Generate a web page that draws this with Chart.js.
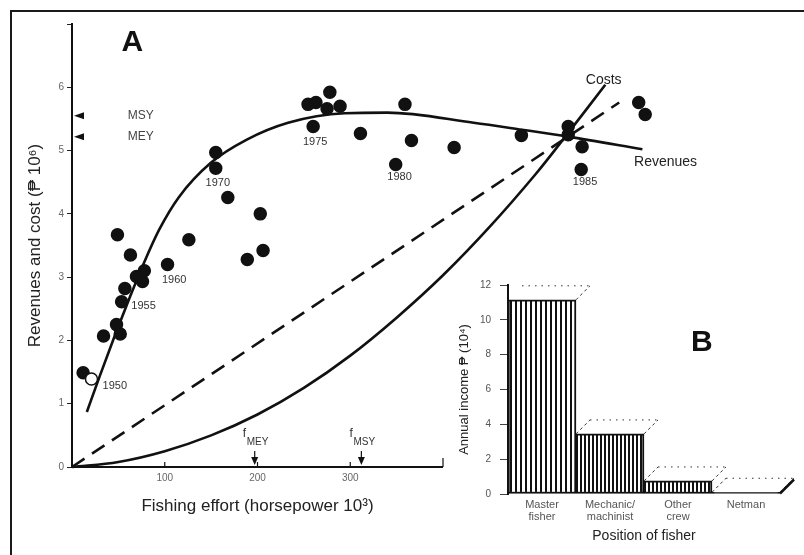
<!DOCTYPE html>
<html>
<head>
<meta charset="utf-8">
<script src="https://cdn.jsdelivr.net/npm/chart.js@4.4.0/dist/chart.umd.min.js"></script>
<style>
  html, body { margin: 0; padding: 0; background: #fff; }
  #wrap { position: relative; width: 804px; height: 555px; overflow: hidden; }
  #frame { position: absolute; left: 10px; top: 10px; width: 900px; height: 700px;
           border-left: 2px solid #1a1a1a; border-top: 2px solid #1a1a1a; }
  #chartA { position: absolute; left: 0; top: 0; }
  #chartB { position: absolute; left: 440px; top: 260px; }
</style>
</head>
<body>
<div id="wrap">
  <div id="frame"></div>
  <canvas id="chartA" width="804" height="555"></canvas>
  <canvas id="chartB" width="364" height="295"></canvas>
</div>
<script>
// ---- panel A: yearly observations (effort in 10^3 hp, revenue in 10^6 pesos)
const obsEffort = [12, 21, 34, 48, 52, 53.5, 57, 69.5, 76, 78, 63, 49, 103, 126, 155, 155, 168, 203, 189, 206,
                   254.5, 263, 275, 289, 278, 260, 311, 359, 366, 349, 412, 484.5, 535, 535, 550, 549, 611, 618];
const obsRevenue = [1.49, 1.39, 2.07, 2.25, 2.10, 2.61, 2.82, 3.01, 2.93, 3.10, 3.35, 3.67, 3.20, 3.59, 4.72, 4.97, 4.26, 4.00, 3.28, 3.42,
                    5.73, 5.76, 5.66, 5.70, 5.92, 5.38, 5.27, 5.73, 5.16, 4.78, 5.05, 5.24, 5.38, 5.25, 5.06, 4.70, 5.76, 5.57];

// fitted revenue curve
const revEffort = [16, 30, 46, 62, 78, 94, 115, 150, 188, 233, 294, 340, 433, 485, 535, 615];
const revCurve = [0.87, 1.44, 2.07, 2.67, 3.24, 3.75, 4.26, 4.81, 5.17, 5.44, 5.59, 5.60, 5.44, 5.33, 5.22, 5.02];

// cost curve (solid) and dashed cost line
const costEffort = [0, 50, 100, 150, 200, 250, 300, 350, 400, 450, 500, 535, 575];
const costCurve = [0, 0.08, 0.25, 0.5, 0.83, 1.25, 1.76, 2.36, 3.03, 3.79, 4.63, 5.28, 6.04];
const dashEffort = [0, 590];
const dashCost = [0, 5.76];

const yTicksA = [0, 1, 2, 3, 4, 5, 6];
const xTicksA = [100, 200, 300];

// ---- panel B: annual income by position (10^4 pesos)
const positions = [['Master', 'fisher'], ['Mechanic/', 'machinist'], ['Other', 'crew'], 'Netman'];
const income = [11.15, 3.45, 0.75, 0.1];
const yTicksB = [0, 2, 4, 6, 8, 10, 12];

Chart.defaults.font.family = '"Liberation Sans", Arial, sans-serif';
Chart.defaults.color = '#555';

function xy(xs, ys) {
  return xs.map((v, i) => ({ x: v, y: ys[i] }));
}

// the x axis of panel A stops at 400 but the data runs on past it,
// so let the points draw over the whole canvas while datasets are drawn
const wideArea = {
  id: 'wideArea',
  beforeDatasetsDraw(chart) {
    chart._plotArea = chart.chartArea;
    chart.chartArea = { left: 0, top: 0, right: chart.width, bottom: chart.height, width: chart.width, height: chart.height };
  },
  afterDatasetsDraw(chart) {
    if (chart._plotArea) chart.chartArea = chart._plotArea;
  }
};

const annotateA = {
  id: 'annotateA',
  afterDatasetsDraw(chart) {
    const { ctx, scales: { x, y } } = chart;
    const px = v => x.getPixelForValue(v);
    const py = v => y.getPixelForValue(v);
    ctx.save();

    // x axis only runs to 400
    ctx.strokeStyle = '#111';
    ctx.lineWidth = 2;
    ctx.beginPath();
    ctx.moveTo(px(0), py(0));
    ctx.lineTo(px(400), py(0));
    ctx.stroke();
    ctx.lineWidth = 1.2;
    [100, 200, 300, 400].forEach(v => {
      ctx.beginPath();
      ctx.moveTo(px(v), py(0));
      ctx.lineTo(px(v), py(0) - (v === 400 ? 9 : 5));
      ctx.stroke();
    });

    // MSY / MEY markers on the y axis
    ctx.fillStyle = '#111';
    [5.55, 5.22].forEach(v => {
      ctx.beginPath();
      ctx.moveTo(px(0) + 2, py(v));
      ctx.lineTo(px(0) + 12, py(v) - 3.5);
      ctx.lineTo(px(0) + 12, py(v) + 3.5);
      ctx.closePath();
      ctx.fill();
    });
    ctx.font = '12px "Liberation Sans", Arial, sans-serif';
    ctx.fillStyle = '#444';
    ctx.textBaseline = 'middle';
    ctx.fillText('MSY', px(60), py(5.55));
    ctx.fillText('MEY', px(60), py(5.22));

    // f_MEY / f_MSY markers on the x axis
    [['MEY', 197], ['MSY', 312]].forEach(([name, v]) => {
      const cx = px(v), base = py(0);
      ctx.strokeStyle = '#111';
      ctx.lineWidth = 1.2;
      ctx.beginPath();
      ctx.moveTo(cx, base - 16);
      ctx.lineTo(cx, base - 9);
      ctx.stroke();
      ctx.fillStyle = '#111';
      ctx.beginPath();
      ctx.moveTo(cx - 3.5, base - 10);
      ctx.lineTo(cx + 3.5, base - 10);
      ctx.lineTo(cx, base - 2);
      ctx.closePath();
      ctx.fill();
      ctx.fillStyle = '#333';
      ctx.font = '12px "Liberation Sans", Arial, sans-serif';
      ctx.fillText('f', cx - 12, base - 33);
      ctx.font = '10px "Liberation Sans", Arial, sans-serif';
      ctx.fillText(name, cx - 8, base - 25);
    });

    // year labels and curve names
    ctx.fillStyle = '#333';
    ctx.font = '11px "Liberation Sans", Arial, sans-serif';
    [['1950', 33, 1.28], ['1955', 64, 2.55], ['1960', 97, 2.96], ['1970', 144, 4.49],
     ['1975', 249, 5.14], ['1980', 340, 4.59], ['1985', 540, 4.51]].forEach(([t, a, b]) => {
      ctx.fillText(t, px(a), py(b));
    });
    ctx.fillStyle = '#222';
    ctx.font = '14px "Liberation Sans", Arial, sans-serif';
    ctx.fillText('Costs', px(554), py(6.12));
    ctx.fillText('Revenues', px(606), py(4.81));

    ctx.fillStyle = '#111';
    ctx.font = 'bold 30px "Liberation Sans", Arial, sans-serif';
    ctx.textAlign = 'center';
    ctx.fillText('A', px(65), py(6.71));
    ctx.restore();
  }
};

const pointFill = obsEffort.map((v, i) => (i === 1 ? '#fff' : '#111'));

const configA = {
  type: 'scatter',
  data: {
    datasets: [
      {
        label: 'Observed revenues',
        data: xy(obsEffort, obsRevenue),
        pointRadius: 6,
        pointBackgroundColor: pointFill,
        pointBorderColor: '#111',
        pointBorderWidth: 1.5,
        clip: false,
      },
      {
        label: 'Revenues',
        data: xy(revEffort, revCurve),
        showLine: true,
        borderColor: '#111',
        borderWidth: 2.6,
        pointRadius: 0,
        cubicInterpolationMode: 'monotone',
        clip: false,
      },
      {
        label: 'Costs',
        data: xy(costEffort, costCurve),
        showLine: true,
        borderColor: '#111',
        borderWidth: 2.6,
        pointRadius: 0,
        tension: 0.35,
        clip: false,
      },
      {
        label: 'Costs (linear)',
        data: xy(dashEffort, dashCost),
        showLine: true,
        borderColor: '#111',
        borderWidth: 2.6,
        borderDash: [15, 9],
        pointRadius: 0,
        clip: false,
      },
    ],
  },
  options: {
    responsive: false,
    animation: false,
    events: [],
    layout: { padding: { left: 10, top: 24, right: 361, bottom: 0 } },
    plugins: { legend: { display: false }, tooltip: { enabled: false } },
    scales: {
      x: {
        type: 'linear',
        afterDataLimits(scale) { scale.min = 0; scale.max = 400; },
        afterBuildTicks(scale) { scale.ticks = xTicksA.map(v => ({ value: v })); },
        afterFit(scale) { scale.height = 88; },
        grid: { display: false, drawTicks: false },
        border: { display: false },
        ticks: { padding: 5, color: '#666', font: { size: 10 } },
        title: {
          display: true,
          text: 'Fishing effort (horsepower 10³)',
          color: '#222',
          font: { size: 17 },
          padding: { top: 0, bottom: 38 },
        },
      },
      y: {
        min: 0,
        max: 7,
        afterBuildTicks(scale) { scale.ticks = yTicksA.concat([7]).map(v => ({ value: v })); },
        afterFit(scale) { scale.width = 62; },
        grid: { drawOnChartArea: false, tickLength: 5, color: '#222' },
        border: { display: true, color: '#111', width: 2 },
        ticks: { padding: 3, color: '#666', font: { size: 10 }, callback: v => (v === 7 ? '' : v) },
        title: {
          display: true,
          text: 'Revenues and cost (₱ 10⁶)',
          color: '#222',
          font: { size: 17 },
          padding: { top: 15, bottom: 0 },
        },
      },
    },
  },
  plugins: [wideArea, annotateA],
};

new Chart(document.getElementById('chartA'), configA);

// ---- panel B
const canvasB = document.getElementById('chartB');
const ctxB = canvasB.getContext('2d');

function stripes(period, ink) {
  const c = document.createElement('canvas');
  c.width = period;
  c.height = 4;
  const g = c.getContext('2d');
  g.fillStyle = '#fff';
  g.fillRect(0, 0, period, 4);
  g.fillStyle = '#111';
  g.fillRect(0, 0, ink, 4);
  return ctxB.createPattern(c, 'repeat');
}

const depthLines = {
  id: 'depthLines',
  afterDatasetsDraw(chart) {
    const { ctx } = chart;
    const bars = chart.getDatasetMeta(0).data;
    const d = 14;
    ctx.save();
    bars.forEach((el, i) => {
      const L = el.x - el.width / 2, R = el.x + el.width / 2, T = el.y;
      ctx.strokeStyle = '#333';
      ctx.lineWidth = 1;
      ctx.setLineDash([3, 3]);
      ctx.beginPath();
      ctx.moveTo(R, T);
      ctx.lineTo(R + d, T - d);
      if (i > 0) {
        ctx.moveTo(L, T);
        ctx.lineTo(L + d, T - d);
      }
      ctx.stroke();
      ctx.setLineDash([1.5, 5]);
      ctx.beginPath();
      ctx.moveTo(L + d, T - d);
      ctx.lineTo(R + d, T - d);
      ctx.stroke();
      if (i === bars.length - 1) {
        ctx.setLineDash([]);
        ctx.strokeStyle = '#111';
        ctx.lineWidth = 2.5;
        ctx.beginPath();
        ctx.moveTo(R, el.base);
        ctx.lineTo(R + d, el.base - d);
        ctx.stroke();
      }
    });
    ctx.setLineDash([]);
    const { x, y } = chart.scales;
    ctx.fillStyle = '#111';
    ctx.font = 'bold 30px "Liberation Sans", Arial, sans-serif';
    ctx.textAlign = 'center';
    ctx.textBaseline = 'middle';
    ctx.fillText('B', x.getPixelForValue(2.35), y.getPixelForValue(8.7));
    ctx.restore();
  }
};

const configB = {
  type: 'bar',
  data: {
    labels: positions,
    datasets: [
      {
        label: 'Annual income',
        data: income,
        backgroundColor: [stripes(5, 2), stripes(4, 2), stripes(4, 2), '#111'],
        borderColor: '#111',
        borderWidth: 2,
        borderSkipped: false,
        barPercentage: 1,
        categoryPercentage: 1,
      },
    ],
  },
  options: {
    responsive: false,
    animation: false,
    events: [],
    layout: { padding: { left: 0, top: 25, right: 24, bottom: 0 } },
    plugins: { legend: { display: false }, tooltip: { enabled: false } },
    scales: {
      x: {
        afterFit(scale) { scale.height = 61; },
        grid: { display: false, drawTicks: false },
        border: { display: false },
        ticks: { padding: 5, color: '#555', font: { size: 11, lineHeight: 1.1 }, maxRotation: 0 },
        title: {
          display: true,
          text: 'Position of fisher',
          color: '#222',
          font: { size: 14 },
          padding: { top: 0, bottom: 10 },
        },
      },
      y: {
        min: 0,
        max: 12,
        afterBuildTicks(scale) { scale.ticks = yTicksB.map(v => ({ value: v })); },
        afterFit(scale) { scale.width = 68; },
        grid: { drawOnChartArea: false, tickLength: 8, color: '#444' },
        border: { display: true, color: '#111', width: 2 },
        ticks: { padding: 9, color: '#555', font: { size: 10 } },
        title: {
          display: true,
          text: 'Annual income ₱ (10⁴)',
          color: '#222',
          font: { size: 13 },
          padding: { top: 17, bottom: 0 },
        },
      },
    },
  },
  plugins: [depthLines],
};

new Chart(canvasB, configB);
</script>
</body>
</html>
